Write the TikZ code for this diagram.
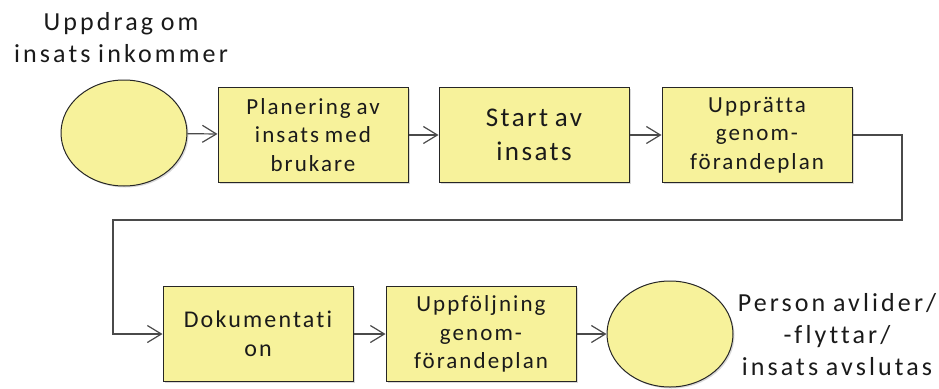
\documentclass[tikz,border=0pt]{standalone}
\usepackage{fontspec}
\setmainfont{Carlito}[LetterSpace=9, WordSpace=0.8, Ligatures={NoCommon}]
\newfontfamily\capfont{Carlito}[LetterSpace=12, WordSpace=0.85, Ligatures={NoCommon}]
\usetikzlibrary{arrows.meta,shadows,shapes.geometric}
\definecolor{boxfill}{HTML}{F7F29B}
\definecolor{linegray}{HTML}{4A4A4A}
\definecolor{inktext}{HTML}{1A1A1A}
\tikzset{
  procbox/.style={draw=black!85, line width=1pt, fill=boxfill, text=inktext,
    minimum width=190pt, minimum height=95pt, align=center,
    font=\fontsize{23}{28.5}\selectfont, inner sep=2pt,
    drop shadow={shadow xshift=1.5pt, shadow yshift=-1.5pt, opacity=0.3}},
  endpoint/.style={draw=black!85, line width=1pt, fill=boxfill, ellipse,
    minimum width=126pt, minimum height=106pt,
    drop shadow={shadow xshift=1.5pt, shadow yshift=-1.5pt, opacity=0.3}},
  caption/.style={align=center, text=inktext, font=\capfont\fontsize{26}{32}\selectfont, inner sep=0pt},
  flow/.style={draw=linegray, line width=1.2pt,
    -{Straight Barb[length=14pt,width=17pt,line width=1.2pt]}}
}
\begin{document}
\begin{tikzpicture}[x=1pt,y=-1pt]
  \useasboundingbox (0,0) rectangle (939,388);
  % top row
  \node[endpoint] (start) at (124,133) {};
  \node[procbox] (plan) at (313,135) {Planering av\\insats med\\brukare};
  \node[procbox, font=\fontsize{27}{34}\selectfont] (begin) at (534,135) {Start av\\insats};
  \node[procbox] (gfp) at (757,135) {Upprätta\\genom-\\förandeplan};
  % bottom row
  \node[procbox, font=\fontsize{24}{29}\selectfont] (doc) at (258,334) {Dokumentati\\on};
  \node[procbox] (follow) at (481,334) {Uppföljning\\genom-\\förandeplan};
  \node[endpoint] (stop) at (670,334) {};
  % captions
  \node[caption] (incap) at (121,38) {Uppdrag om\\insats inkommer};
  \node[caption] (outcap) at (837,335) {Person avlider/\\-flyttar/\\insats avslutas};
  % connectors
  \coordinate (r1) at (902,135);
  \coordinate (r2) at (902,220);
  \coordinate (l1) at (113,220);
  \coordinate (l2) at (113,334);
  \draw[flow] (start) -- (plan);
  \draw[flow] (plan) -- (begin);
  \draw[flow] (begin) -- (gfp);
  \draw[flow] (gfp.east) -- (r1) -- (r2) -- (l1) -- (l2) -- (doc.west);
  \draw[flow] (doc) -- (follow);
  \draw[flow] (follow) -- (stop);
\end{tikzpicture}
\end{document}
